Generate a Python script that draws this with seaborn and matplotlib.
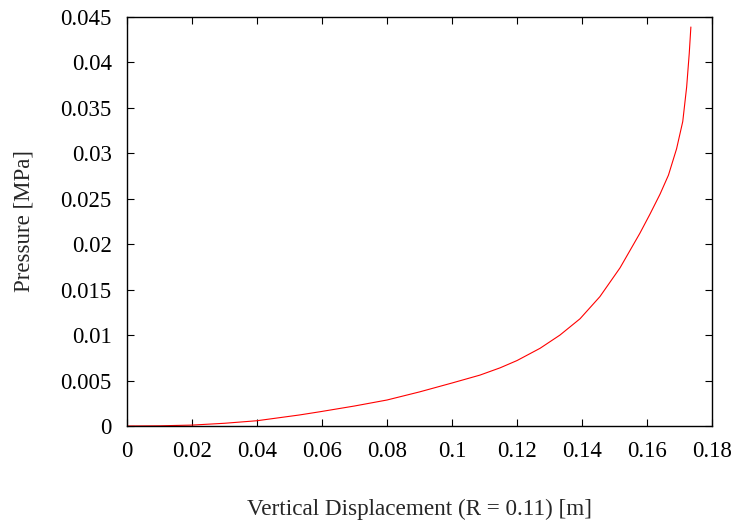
import matplotlib
matplotlib.use("Agg")
import matplotlib.pyplot as plt
import seaborn as sns
import pandas as pd

# values
displacement = [0.0, 0.01, 0.02, 0.03, 0.04, 0.053, 0.0594, 0.07, 0.08, 0.09, 0.1,
                0.1086, 0.1148, 0.12, 0.1271, 0.1332, 0.1394, 0.1455, 0.1517,
                0.1578, 0.1609, 0.164, 0.1666, 0.1691, 0.171, 0.1722, 0.173, 0.1735]
pressure = [0.0, 0.00002, 0.0001, 0.0003, 0.00058, 0.00121, 0.00157, 0.0022, 0.00286,
            0.00375, 0.00473, 0.0056, 0.0064, 0.0072, 0.00855, 0.0100, 0.0118,
            0.01423, 0.0174, 0.0212, 0.0233, 0.0255, 0.0276, 0.0305, 0.0335,
            0.0373, 0.041, 0.0439]

xticks = [0, 0.02, 0.04, 0.06, 0.08, 0.1, 0.12, 0.14, 0.16, 0.18]
yticks = [0, 0.005, 0.01, 0.015, 0.02, 0.025, 0.03, 0.035, 0.04, 0.045]

sns.set_style("ticks")
plt.rcParams['font.family'] = ['Liberation Serif', 'DejaVu Serif']

df = pd.DataFrame({'disp': displacement, 'p': pressure})

fig = plt.figure(figsize=(7.36, 5.28), dpi=100)
ax = fig.add_axes([127 / 736, 1 - 426 / 528, 585 / 736, 409 / 528])

sns.lineplot(data=df, x='disp', y='p', ax=ax, color='red', linewidth=0.8)

ax.set_xlim(0, 0.18)
ax.set_ylim(0, 0.045)
ax.set_xticks(xticks)
ax.set_yticks(yticks)
ax.set_xticklabels(['%g' % t for t in xticks])
ax.set_yticklabels(['%g' % t for t in yticks])
ax.tick_params(direction='in', length=5, width=0.8, top=True, right=True,
               labelsize=16.5, colors='black', pad=11)
for s in ax.spines.values():
    s.set_visible(True)
    s.set_linewidth(1.0)
    s.set_color('black')

ax.set_xlabel('Vertical Displacement (R = 0.11) [m]', fontsize=16.7, labelpad=26.5)
ax.set_ylabel('Pressure [MPa]', fontsize=16.5, labelpad=18.5)

fig.savefig('out.png', dpi=100)
